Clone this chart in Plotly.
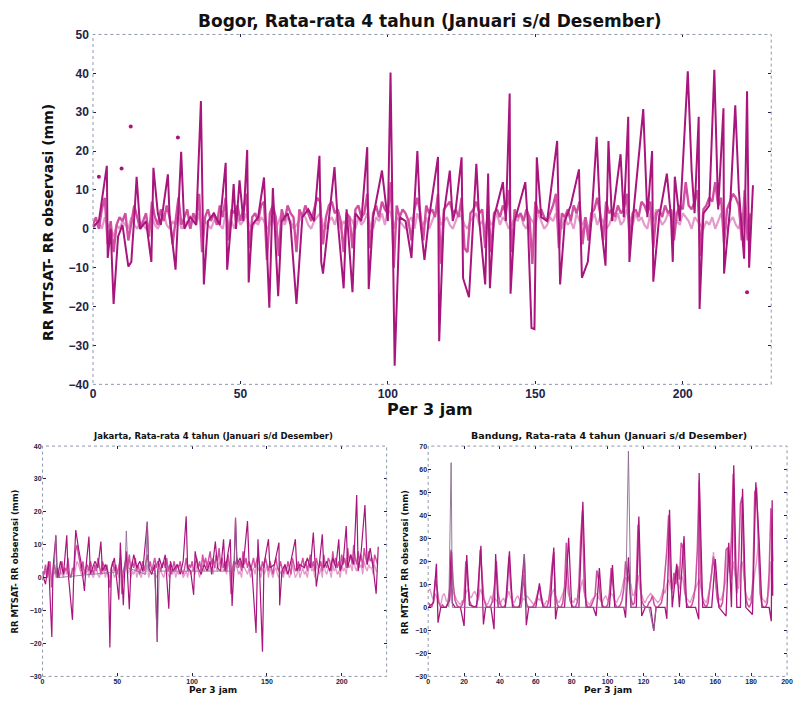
import plotly.graph_objects as go

# ---------------- Bogor ----------------
bogor_major_x = [0, 2, 4.7, 5, 6, 7, 8.5, 10, 12, 13, 14, 14.8, 16, 18, 19.8, 20.5, 22, 23, 25.4, 26, 28, 29.9, 31, 33, 35,
                 36.6, 37.6, 39, 41, 43, 45, 45.5, 47, 47.7, 48.5, 49.7, 51, 52.3, 52.8, 54, 56, 58, 59.8, 61, 62.8, 64,
                 66, 67, 69, 71, 73, 75, 76.8, 77.4, 78, 80, 81.9, 83, 85, 86, 88, 89, 91, 93, 93.5, 95, 98, 100, 100.9,
                 102.3, 104, 106, 108, 110, 111, 112.4, 114, 117, 117.4, 119, 121, 122, 123, 125, 125.5, 127.5, 129, 130,
                 131, 133, 134, 134.6, 136, 139, 140, 141.3, 141.6, 143, 146.6, 147.5, 148.7, 149.7, 150.5, 152, 154,
                 157.4, 158.4, 160, 162, 164.8, 165.8, 167.8, 169, 170.8, 172, 173.8, 174.8, 176, 178.9, 180, 181.5,
                 181.9, 183, 186.6, 188, 189.6, 190, 192, 194.6, 196, 196.6, 197.3, 199, 201.7, 203, 204, 205.4, 205.7,
                 207, 209, 210.7, 212, 213.8, 214, 216, 217.8, 219, 220.8, 221.8, 222.5, 223.8]
bogor_major_y = [0.5, 2, 16.2, -7.5, 0, -19.3, -2, 1, -9.7, -8.5, 3, 13.4, 0, 2, -8.5, 15.7, 4, 1, 14, 3, -10.5, 19.8, 0, 3, 1,
                 32.9, -14.3, 2, 4, 1, 17, -10.5, 3, 11.5, 0, 12.5, 2, 20.3, -13.8, 1, 3, 13.2, -20.3, 10.5, -17.3, 2,
                 4, 1, -19.3, 3, 5, 2, 18.8, -8.5, -11.5, 2, 15.9, 2, -15.3, 5, -16.3, 4, 2, 21, -15.5, 3, 15, 2, 40.2,
                 -35.2, 3, 2, -7.5, 20, 2, -8, 3, 18.5, -28.9, 4, 15, 2, 5, 18.4, -12.7, -17.6, 3, 16.7,
                 2, -14.3, 14.2, -15.3, 3, 12, 2, 34.8, -16.7, 2, 12, 1, -25.5, -25.8, 18.4, 3, 2,
                 22.6, -14.3, 2, 6, 15.3, -12.6, -8.5, 2, 23.7, 3, -9.5, 22.6, 2, 19.2, 3, 28.8,
                 -8.5, 2, 30.8, 3, 20, -13.6, 3, 14.2, 3, -8.5, 13.4, 2, 40.5, 15, 4, 28.8, -20.6,
                 4, 6, 40.9, 5, 31, -11.5, 5, 31.8, 10, -7.7, 35.4, -10, 11.2]
bogor_mid = [1, 3, 0, 5, 8, -4, 2, -6, 1, 3, 2, 4, -3, 1, 6, 3, 0, 2, 4, -2,
             7, 3, 1, 5, 2, 6, 3, -4, 2, 8, 1, 3, 5, 0, 4, 2, 9, -6, 3, 5,
             2, 4, 1, 6, 3, 8, -3, 5, 4, 6, 2, 5, 9, -5, 3, 4, 2, 6, 7, -8,
             4, 6, 3, -7, 5, 2, 6, 4, 3, -6, 5, 3, 6, 4, 2, 5, 8, 7, -4, 3,
             6, 7, 4, 5, 2, -6, 4, 3, -5, 5, 6, 3, 4, 9, -5, 4, 6, 3, 7, 5,
             4, 12, -10, 6, 3, 5, 4, 2, -3, 5, 8, 4, -3, 6, 4, 5, 3, 9, -9, 5,
             6, 7, 4, 5, 3, 8, -5, -6, 4, 5, 7, 4, 5, -5, 6, -6, 4, 5, 3, 6,
             4, 10, -6, 5, 3, 4, 2, 5, 3, -9, 7, 4, 5, 3, 2, 4, 6, 9, -5, 4,
             3, 5, 2, 6, 4, 7, -4, 3, -3, 4, 5, 8, 4, -3, 7, 4, 5, 3, 6, 4,
             5, 9, -3, 4, 5, 3, 7, 6, 4, 7, -5, 4, 5, 3, 6, 4, 5, -3, 4, 6,
             5, 12, 6, 5, 7, 10, -7, 5, 6, 8, 7, 12, 6, 8, -4, 5, 7, 9, 8, 6,
             -3, 10, -3, 4]
bogor_low = [0, 1, 2, 0, 3, 1, 0, -2, 1, 0, 2, 1, 0, 3, 1, 0, 2, 1, 0, 1,
             3, 1, 0, 2, 4, 1, 0, 2, 1, 3, 0, 1, 2, 0, 3, 1, 4, 0, 2, 1,
             0, 2, 3, 1, 0, 4, 1, 2, 0, 3, 1, 2, 4, 1, 0, 2, 1, 3, 2, 0,
             1, 3, 0, 2, 4, 1, 3, 2, 0, 1, 2, 4, 3, 1, 0, 2, 3, 4, 1, 0,
             2, 3, 1, 4, 0, 2, 1, 3, 2, 0, 3, 1, 2, 4, 1, 0, 3, 2, 4, 1,
             5, 4, 0, 3, 2, 1, 0, 2, 3, 0, 4, 2, 1, 3, 0, 2, 4, 5, 1, 2,
             3, 1, 0, 2, 4, 3, 1, 0, 2, 3, 4, 1, 2, 0, 3, 1, 2, 4, 1, 3,
             2, 0, 1, 3, 2, 4, 1, 0, 3, 2, 1, 4, 2, 0, 1, 3, 2, 4, 1, 0,
             3, 1, 2, 0, 4, 2, 1, 3, 0, 2, 4, 1, 3, 2, 0, 1, 3, 2, 4, 1,
             2, 5, 3, 1, 4, 2, 3, 1, 0, 4, 2, 5, 3, 1, 2, 4, 3, 5, 2, 1,
             4, 3, 2, 0, 3, 2, 1, 0, 2, 1, 3, 0, 2, 4, 1, 0, 2, 3, 1, 0,
             4, 3, 2, 0]
bogor_dots_x = [2, 9.7, 12.8, 28.8, 221.8]
bogor_dots_y = [13.4, 15.5, 26.3, 23.5, -16.3]

# ---------------- Jakarta ----------------
jakarta_major_x = [0, 2, 4, 6.2, 7, 8.9, 10, 12, 14, 16.2, 17, 20, 21, 22.2, 24, 26, 28, 29, 31, 32, 35, 37, 39, 40, 42, 44,
                   45, 46, 48, 51, 52, 53, 54, 55, 56, 58, 59, 61, 63, 65, 67, 70, 71, 73, 75, 76.7, 77, 78, 80, 82,
                   84.4, 85.5, 87, 90, 92, 94, 96, 97, 99, 101, 102, 104, 106, 108, 110, 112, 113, 115.5, 117, 119,
                   121, 122, 123, 125.5, 126.7, 128, 129, 130, 132, 134, 137, 138, 140, 142.7, 144, 145, 147, 148,
                   151, 152, 155, 158, 158.5, 160, 162, 164, 166, 169, 170, 172, 175, 177, 179, 181, 183, 185, 187,
                   188, 190, 192, 194, 196, 198, 199, 201, 203, 204, 206, 208, 210, 211, 213, 215.5, 217, 219, 221,
                   223, 224.4]
jakarta_major_y = [1, -2, 5, -18, 3, 12.7, 0, 5, 1, 12.9, 2, -12.8, 3, 14.5, 9, 4, -4, 3, 12.5, 1, 5, 3, 11, 2, 4, 1,
                   -21.2, 3, 6, -6.7, 10.7, 2, -8.4, 3, 8, -9.6, 2, 7, 3, 5, 2, 17, 3, 1, 4, -19.5, 2, 6, 3, 7,
                   -9.4, 5, 2, 4, 1, 5, 18.7, 3, 2, -5.2, 8, 3, 1, 4, 2, 5, 1, 11, 3, 2,
                   11.7, 2, 5, 11.7, -8.6, 3, 18.2, 4, 6, 3, 17.2, 5, 2, -16.8, 11.7, 3, -22.5, 4,
                   11.7, 3, 4, 10.7, -8.4, 2, 4, 1, 5, 11.7, 2, 4, 3, 6, 3, 13.7, -2.7, 4, 13.2,
                   3, 5, 2, 6, 3, 11.7, 2, 5, 15.7, 3, 7, 4, 25.1, 2, 8, 22.1, 4, 9, 3,
                   -4.9, 9.4]
jakarta_mid = [2, 1, 4, 0, 3, 5, -3, 2, 4, 1, 3, 0, 2, 5, 1, 3, 2, 6, 1, 0,
               3, 2, 8, 10, 7, 4, 2, 5, 1, 3, 4, 2, 5, 3, 1, 4, 2, 6, 3, 1,
               5, 3, 2, 4, 1, -3, 3, 5, 2, 4, 1, 3, 6, -5, 2, 4, 6, 3, 7, 2,
               5, 3, 6, 2, 4, 1, 3, 5, 2, 4, 7, 3, 5, 2, 4, 6, 3, 5, 4, 2,
               4, 5, 3, 6, 2, 4, 1, 3, 5, 2, 4, 3, 5, 2, 1, 3, 6, 2, 4, 3,
               5, 2, 4, 6, 3, 5, 2, 7, 4, 6, 3, 5, 8, 4, 6, 3, 7, 5, 9, 4,
               6, 3, 5, 2, 7, 4, -5, 3, 5, 4, 6, 3, 5, 2, 8, 4, 6, 3, 5, 2,
               4, 6, 3, 5, 7, 4, 2, 5, 3, 6, 4, 2, 5, 3, 1, 4, 6, 3, 2, 5,
               3, 1, 4, 2, 5, 3, 1, 6, 4, 2, 3, 5, 2, 4, 6, 3, 5, 2, 4, 7,
               3, 5, 2, 6, 4, 3, 5, 2, 7, 4, 3, 6, 5, 2, 8, 4, 6, 3, 5, 2,
               7, 4, 6, 3, 9, 5, 7, 4, 10, 6, 4, 8, 5, 7, 3, 9, 6, 4, 8, 5,
               6, 3, 7, 5, 4]
jakarta_low = [0, 1, 2, 0, 1, 3, 0, 1, 2, 0, 1, 0, 2, 1, 0, 3, 1, 2, 0, 1,
               2, 0, 3, 5, 4, 2, 1, 0, 2, 1, 3, 0, 2, 1, 0, 2, 3, 1, 0, 2,
               1, 3, 0, 2, 1, 0, 3, 2, 0, 1, 2, 0, 3, 1, 0, 2, 4, 1, 3, 0,
               2, 1, 3, 0, 2, 1, 0, 3, 1, 2, 4, 0, 2, 1, 3, 2, 0, 1, 3, 2,
               1, 0, 2, 3, 1, 0, 2, 1, 3, 0, 2, 1, 3, 2, 0, 1, 2, 0, 3, 1,
               2, 3, 1, 4, 2, 0, 3, 4, 2, 3, 5, 2, 4, 3, 1, 4, 3, 2, 5, 3,
               4, 2, 3, 1, 5, 2, 0, 3, 2, 4, 3, 1, 2, 0, 4, 3, 2, 1, 3, 0,
               2, 3, 1, 4, 3, 2, 0, 3, 1, 2, 4, 0, 3, 1, 0, 2, 3, 1, 0, 2,
               1, 0, 3, 1, 2, 0, 1, 4, 2, 0, 1, 3, 0, 2, 3, 1, 2, 0, 3, 4,
               2, 3, 0, 4, 2, 1, 3, 0, 5, 2, 1, 3, 2, 0, 4, 2, 3, 1, 2, 0,
               4, 2, 3, 1, 5, 3, 4, 2, 6, 3, 2, 5, 3, 4, 1, 5, 3, 2, 4, 3,
               3, 1, 4, 2, 2]
jakarta_gray_x = [7.5, 8.9, 9.5, 55, 56, 57, 69, 70, 71, 75, 76.7, 78, 128, 129, 130]
jakarta_gray_y = [1, 13, 0, 2, 14.2, 3, 1, 17, 2, 1, -19.5, 2, 2, 18.2, 3]

# ---------------- Bandung ----------------
bandung_major_x = [0, 3, 4.6, 5.5, 7, 10, 12, 12.8, 13.4, 15, 18, 20, 21.5, 23, 27, 29.4, 30.8, 32, 35, 36.7, 37.6, 39,
                   43, 45.3, 47, 51, 53.6, 54.7, 56, 60, 62, 64, 68, 70, 71, 72, 76, 78.3, 80, 84, 86.2, 88, 92, 93.6,
                   95.4, 97, 101, 102.7, 104, 109, 110, 111.6, 113, 116, 117.4, 119, 121, 124, 125.7, 127, 132, 133,
                   134.5, 136, 138.5, 140, 142.6, 144, 149, 150.8, 151, 153, 158, 160, 162, 166, 167.5, 169, 170.3,
                   172, 174, 175.2, 177, 180.7, 182.6, 184.4, 186, 190, 191.2, 191.7, 192]
bandung_major_y = [0, 2, 18.9, -6.7, 0, 0, 3, 25, 2, 0, 0, -8.1, 22.7, 1, 0, 26.7, -7.4, 0, 0, -9.5, 23.1, 0,
                   0, 24.3, 0, 0, 23.1, -7.8, 0, 0, 10.4, 0, 0, 26, -5.2, 0, 0, 30.2, 0, 0, 45.8, 0, 0, -3.8,
                   17, 0, 0, 18.4, 0, 0, -4.5, 21.7, 0, 0, 39.4, -3.8, 0, 0, -10.2, 0, 0, -5,
                   42.3, 0, 18.9, 0, 30.9, 0, 0, -5.2, 58.3, 0, 0, 21, 0, -3.8, 28, 0, 61.7,
                   0, 0, 51.5, 0, -3.1, 54.3, 29.5, 0, 0, -6, 46.5, 5]
bandung_mid = [2, 1, 0, 3, 12, 8, 2, 0, 1, 0, 0, 2, 8, 24, 10, 3, 1, 0, 0, 1,
               4, 20, 12, 3, 1, 0, 0, 1, 5, 25, 14, 4, 1, 0, 0, 1, 3, 10, 20, 6,
               2, 0, 0, 1, 6, 22, 9, 2, 0, 0, 0, 1, 4, 14, 5, 1, 0, 0, 0, 1,
               3, 6, 9, 3, 1, 0, 0, 2, 8, 18, 24, 5, 1, 0, 0, 2, 9, 28, 12, 3,
               1, 0, 0, 2, 10, 30, 42, 8, 2, 0, 0, 1, 3, 5, 16, 12, 4, 1, 0, 0,
               1, 6, 17, 10, 2, 0, 0, 1, 3, 8, 20, 14, 12, 4, 1, 2, 12, 36, 14, 3,
               1, 0, 0, 2, 3, 5, 1, 0, 0, 1, 2, 6, 14, 25, 40, 12, 8, 15, 10, 18,
               12, 28, 26, 8, 2, 0, 0, 1, 4, 10, 25, 55, 12, 3, 1, 0, 2, 8, 16, 22,
               14, 4, 1, 0, 2, 10, 25, 26, 15, 30, 58, 18, 6, 20, 45, 48, 16, 4, 1, 0,
               2, 12, 50, 52, 28, 6, 1, 0, 0, 2, 15, 43, 20]
bandung_low = [7, 8, 5, 3, 6, 4, 2, 1, 5, 6, 3, 2, 4, 8, 6, 5, 3, 2, 1, 3,
               2, 6, 8, 5, 4, 6, 7, 5, 3, 8, 6, 4, 2, 1, 3, 5, 2, 4, 3, 2,
               1, 3, 4, 2, 5, 7, 4, 3, 2, 4, 5, 3, 2, 4, 3, 5, 4, 3, 2, 1,
               2, 4, 3, 5, 2, 1, 3, 2, 4, 6, 8, 5, 3, 2, 4, 6, 8, 12, 6, 4,
               3, 2, 4, 3, 5, 8, 12, 6, 3, 2, 1, 3, 4, 5, 6, 4, 3, 2, 4, 5,
               3, 4, 6, 5, 3, 2, 4, 5, 8, 12, 13, 11, 12, 10, 5, 6, 9, 14, 8, 5,
               3, 2, 4, 5, 6, 5, 4, 3, 2, 3, 5, 8, 6, 10, 12, 9, 6, 12, 16, 10,
               8, 14, 12, 6, 4, 3, 2, 4, 6, 8, 10, 12, 8, 4, 3, 2, 5, 9, 15, 24,
               12, 6, 4, 3, 5, 8, 12, 26, 16, 12, 20, 14, 10, 8, 18, 20, 12, 6, 4, 3,
               5, 8, 15, 20, 28, 10, 4, 3, 2, 4, 8, 20, 8]
bandung_gray_x = [11.5, 12.8, 13.5, 52, 53.6, 55, 110, 111.6, 113, 123, 125.7, 127]
bandung_gray_y = [0, 62.8, 0, 0, 23.1, 0, 0, 67.8, 0, 0, -10.2, 0]

# tick values / titles
bogor_xticks = [0, 50, 100, 150, 200]
bogor_yticks = [50, 40, 30, 20, 10, 0, -10, -20, -30, -40]
jakarta_xticks = [0, 50, 100, 150, 200]
jakarta_yticks = [40, 30, 20, 10, 0, -10, -20, -30]
bandung_xticks = [0, 20, 40, 60, 80, 100, 120, 140, 160, 180, 200]
bandung_yticks = [70, 60, 50, 40, 30, 20, 10, 0, -10, -20, -30]

DARK = "#A8157C"
MID = "#D04FA2"
LIGHT = "#E49BCB"
GRAY = "#8C6A90"
TICKC = "#22224a"
FONT = "Liberation Sans"
TFONT = "DejaVu Sans"
W, H = 799, 704


def px_x(p):
    return p / W


def px_y(p):
    return 1 - p / H


fig = go.Figure()


def add_panel(xa, ya, major_x, major_y, mid, low, lw, gray_x=None, gray_y=None):
    fig.add_trace(go.Scatter(x=list(range(len(low))), y=low, mode="lines", line=dict(color=LIGHT, width=lw * 1.1),
                             xaxis=xa, yaxis=ya, showlegend=False, hoverinfo="skip"))
    fig.add_trace(go.Scatter(x=list(range(len(mid))), y=mid, mode="lines", line=dict(color=MID, width=lw * 1.2),
                             xaxis=xa, yaxis=ya, showlegend=False, hoverinfo="skip"))
    fig.add_trace(go.Scatter(x=major_x, y=major_y, mode="lines", line=dict(color=DARK, width=lw),
                             xaxis=xa, yaxis=ya, showlegend=False, hoverinfo="skip"))
    if gray_x is not None:
        fig.add_trace(go.Scatter(x=gray_x, y=gray_y, mode="lines", line=dict(color=GRAY, width=lw * 0.7),
                                 xaxis=xa, yaxis=ya, showlegend=False, hoverinfo="skip"))


add_panel("x", "y", bogor_major_x, bogor_major_y, bogor_mid, bogor_low, 2.0)
fig.add_trace(go.Scatter(x=bogor_dots_x, y=bogor_dots_y, mode="markers", marker=dict(color=DARK, size=4),
                         xaxis="x", yaxis="y", showlegend=False, hoverinfo="skip"))
add_panel("x2", "y2", jakarta_major_x, jakarta_major_y, jakarta_mid, jakarta_low, 1.2, jakarta_gray_x, jakarta_gray_y)
add_panel("x3", "y3", bandung_major_x, bandung_major_y, bandung_mid, bandung_low, 1.3, bandung_gray_x, bandung_gray_y)


def axis(dom, rng, ticks, size, anchor, standoff=0):
    d = dict(domain=dom, range=rng, tickvals=ticks, ticks="inside", ticklen=3, tickcolor=TICKC,
             mirror="allticks", showline=False, showgrid=False, zeroline=False, anchor=anchor,
             tickfont=dict(family=FONT, size=size, color=TICKC, weight="bold"))
    if standoff:
        d["ticklabelstandoff"] = standoff
    return d


fig.update_layout(
    width=W, height=H, margin=dict(l=0, r=0, t=0, b=0),
    paper_bgcolor="white", plot_bgcolor="white",
    xaxis=axis([px_x(91), px_x(777)], [0, 230], bogor_xticks, 12, "y", 1),
    yaxis=axis([px_y(385), px_y(28)], [-40, 50], bogor_yticks, 12, "x", 3),
    xaxis2=axis([px_x(40), px_x(388)], [0, 230], jakarta_xticks, 7, "y2"),
    yaxis2=axis([px_y(683), px_y(448)], [-30, 40], jakarta_yticks, 7, "x2"),
    xaxis3=axis([px_x(430), px_x(793)], [0, 200], bandung_xticks, 7, "y3"),
    yaxis3=axis([px_y(683), px_y(448)], [-30, 70], bandung_yticks, 7, "x3"),
)

for xr, yr in [("x", "y"), ("x2", "y2"), ("x3", "y3")]:
    fig.add_shape(type="rect", xref=f"{xr} domain", yref=f"{yr} domain", x0=0, x1=1, y0=0, y1=1,
                  line=dict(color="#8f97ab", width=1, dash="dot"), layer="above")

anns = [
    ("<b>Bogor, Rata-rata 4 tahun (Januari s/d Desember)</b>", 432, 14, 17, 0),
    ("<b>Per 3 jam</b>", 432, 411, 16, 0),
    ("<b>RR MTSAT- RR observasi (mm)</b>", 45, 220, 14, -90),
    ("<b>Jakarta, Rata-rata 4 tahun (Januari s/d Desember)</b>", 212, 438, 8.5, 0),
    ("<b>Per 3 jam</b>", 212, 697, 9, 0),
    ("<b>RR MTSAT- RR observasi (mm)</b>", 12, 566, 8.5, -90),
    ("<b>Bandung, Rata-rata 4 tahun (Januari s/d Desember)</b>", 613, 437, 9.5, 0),
    ("<b>Per 3 jam</b>", 612, 697, 9, 0),
    ("<b>RR MTSAT- RR observasi (mm)</b>", 406, 566, 8.5, -90),
]
for text, x, y, size, ang in anns:
    fig.add_annotation(text=text, x=px_x(x), y=px_y(y), xref="paper", yref="paper", showarrow=False,
                       xanchor="center", yanchor="middle", textangle=ang,
                       font=dict(family=TFONT, size=size, color="#111111"))

fig.write_html("out.html")
